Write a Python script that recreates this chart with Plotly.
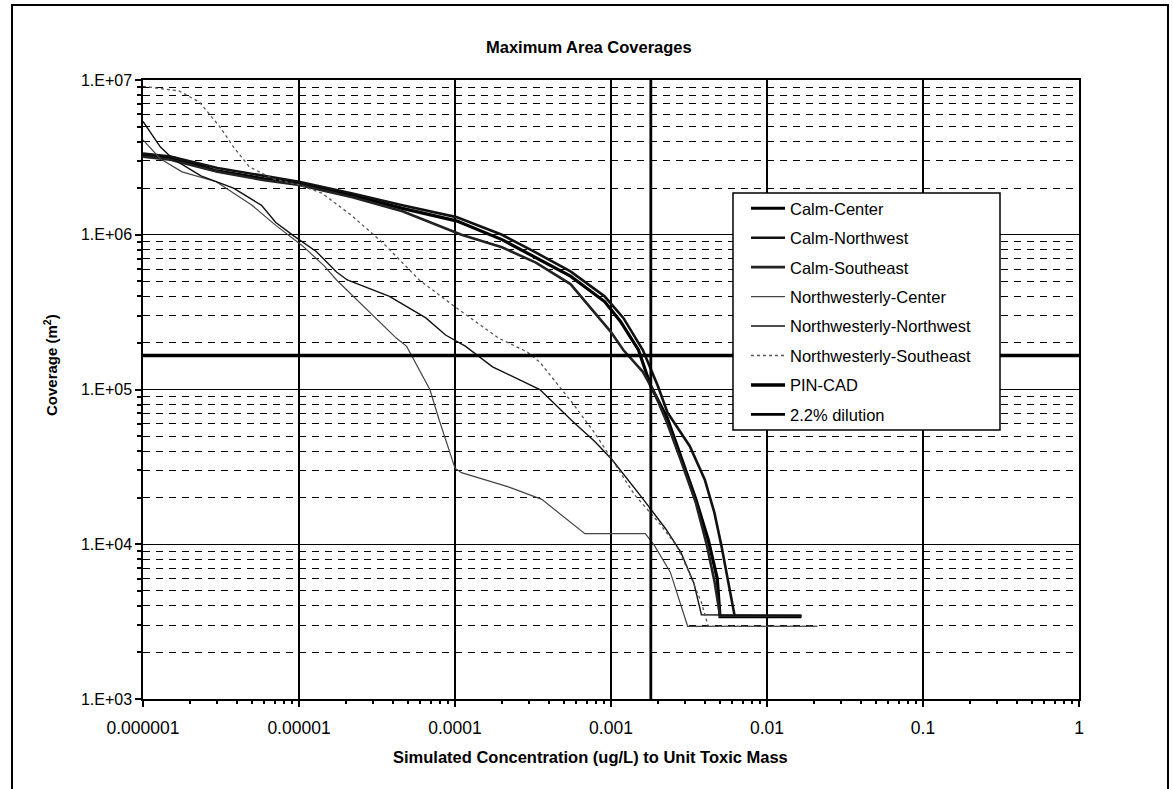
import plotly.graph_objects as go

# ---- series values: concentration (ug/L) vs. maximum area coverage (m^2) ----
calm_center_x = [1e-6, 1.55e-6, 2.9e-6, 6.0e-6, 1e-5, 2.2e-5, 4.6e-5, 1.02e-4, 2.0e-4, 3.2e-4,
                 5.5e-4, 9.1e-4, 1.15e-3, 1.5e-3, 1.8e-3, 2.3e-3, 2.8e-3, 3.5e-3, 4.2e-3,
                 4.8e-3, 5.0e-3, 0.0166]
calm_center_y = [3.3e6, 3.15e6, 2.6e6, 2.3e6, 2.15e6, 1.8e6, 1.48e6, 1.23e6, 9.3e5, 7.2e5,
                 5.4e5, 3.7e5, 2.75e5, 1.8e5, 1.05e5, 6.5e4, 3.7e4, 1.95e4, 1.07e4,
                 6.0e3, 3.4e3, 3.4e3]

calm_northwest_x = [1e-6, 1.5e-6, 3e-6, 6e-6, 1e-5, 2.2e-5, 4.6e-5, 1.02e-4, 2e-4, 3.2e-4,
                    5.5e-4, 9.1e-4, 1.2e-3, 1.6e-3, 2.0e-3, 2.3e-3, 3.2e-3, 4.0e-3, 4.6e-3,
                    5.1e-3, 5.6e-3, 6.2e-3, 0.0166]
calm_northwest_y = [3.35e6, 3.2e6, 2.7e6, 2.4e6, 2.2e6, 1.85e6, 1.55e6, 1.3e6, 1.0e6, 7.8e5,
                    5.8e5, 4.0e5, 2.9e5, 1.8e5, 1.05e5, 7.1e4, 4.3e4, 2.6e4, 1.6e4,
                    9.8e3, 6.0e3, 3.45e3, 3.45e3]

calm_southeast_x = [1e-6, 1.5e-6, 3e-6, 6e-6, 1e-5, 2.2e-5, 4.6e-5, 1.1e-4, 2e-4, 3.3e-4,
                    5.5e-4, 1.0e-3, 1.2e-3, 1.6e-3, 1.9e-3, 2.3e-3, 2.8e-3, 3.5e-3, 4.1e-3,
                    4.6e-3, 5.0e-3, 0.0166]
calm_southeast_y = [3.2e6, 3.05e6, 2.55e6, 2.25e6, 2.1e6, 1.75e6, 1.42e6, 1.0e6, 8.3e5, 6.6e5,
                    4.8e5, 2.35e5, 1.8e5, 1.3e5, 9.5e4, 6.0e4, 3.5e4, 1.85e4, 1.0e4,
                    5.8e3, 3.45e3, 3.45e3]

nw_center_x = [1e-6, 1.29e-6, 1.78e-6, 2.95e-6, 5.0e-6, 7.1e-6, 1.05e-5, 1.45e-5, 1.74e-5,
               2.8e-5, 4.2e-5, 4.9e-5, 6.9e-5, 7.9e-5, 1.0e-4, 1.1e-4, 2.2e-4, 3.6e-4,
               6.8e-4, 1.66e-3, 1.9e-3, 2.4e-3, 3.1e-3, 0.021]
nw_center_y = [4.1e6, 3.1e6, 2.55e6, 2.2e6, 1.55e6, 1.15e6, 8.5e5, 6.3e5, 5.1e5,
               3.2e5, 2.15e5, 1.9e5, 1.0e5, 6.4e4, 3.1e4, 2.9e4, 2.35e4, 1.95e4,
               1.17e4, 1.17e4, 9.8e3, 6.6e3, 2.95e3, 2.95e3]

nw_northwest_x = [1e-6, 1.29e-6, 1.55e-6, 2.35e-6, 3.8e-6, 5.75e-6, 7.1e-6, 9.3e-6, 1.29e-5,
                  1.74e-5, 2.04e-5, 3.8e-5, 6.5e-5, 8.7e-5, 1.17e-4, 1.74e-4, 3.5e-4, 5.6e-4,
                  7.9e-4, 1.02e-3, 1.58e-3, 2.24e-3, 2.8e-3, 3.4e-3, 3.8e-3, 0.0166]
nw_northwest_y = [5.4e6, 3.7e6, 3.1e6, 2.4e6, 2.0e6, 1.55e6, 1.2e6, 9.8e5, 7.8e5,
                  5.75e5, 5.1e5, 4.0e5, 2.9e5, 2.25e5, 1.9e5, 1.4e5, 1.0e5, 6.3e4,
                  4.6e4, 3.5e4, 2.0e4, 1.26e4, 8.9e3, 5.6e3, 3.5e3, 3.45e3]

nw_southeast_x = [1e-6, 1.7e-6, 2.3e-6, 3.1e-6, 3.8e-6, 4.8e-6, 6.8e-6, 1e-5, 1.4e-5, 2.2e-5,
                  3.6e-5, 5.9e-5, 1.05e-4, 1.9e-4, 2.9e-4, 3.5e-4, 5.6e-4, 7.9e-4, 1.02e-3,
                  1.41e-3, 2.0e-3, 2.63e-3, 3.16e-3, 3.8e-3, 4.2e-3, 0.021]
nw_southeast_y = [9.1e6, 8.5e6, 7.2e6, 5.0e6, 3.7e6, 2.75e6, 2.3e6, 2.1e6, 1.86e6, 1.32e6,
                  8.5e5, 5.1e5, 3.3e5, 2.15e5, 1.75e5, 1.5e5, 8.3e4, 5.2e4, 3.5e4,
                  2.1e4, 1.4e4, 9.8e3, 6.6e3, 4.2e3, 2.95e3, 2.95e3]

# reference levels
pin_cad_x = [1e-6, 1.0]
pin_cad_y = [1.66e5, 1.66e5]
dilution_x = [0.0018, 0.0018]
dilution_y = [1e3, 1e7]

# axis ticks
x_tick_vals = [1e-6, 1e-5, 1e-4, 1e-3, 1e-2, 1e-1, 1]
x_tick_text = ["0.000001", "0.00001", "0.0001", "0.001", "0.01", "0.1", "1"]
y_tick_vals = [1e3, 1e4, 1e5, 1e6, 1e7]
y_tick_text = ["1.E+03", "1.E+04", "1.E+05", "1.E+06", "1.E+07"]
y_minor_vals = [m * 10 ** e for e in range(3, 7) for m in range(2, 10)]
x_minor_vals = [m * 10 ** e for e in range(-6, 0) for m in range(2, 10)]

FONT = "Liberation Sans, Arial, sans-serif"

# plot area in pixels (figure 1173 x 789)
L, R, T, B = 143, 1079, 80, 699
PW, PH = R - L, B - T


def px(xp):
    return (xp - L) / PW


def py(yp):
    return (B - yp) / PH


series = [
    ("Calm-Center", calm_center_x, calm_center_y, dict(color="#000000", width=3.2)),
    ("Calm-Northwest", calm_northwest_x, calm_northwest_y, dict(color="#111111", width=2.6)),
    ("Calm-Southeast", calm_southeast_x, calm_southeast_y, dict(color="#222222", width=2.6)),
    ("Northwesterly-Center", nw_center_x, nw_center_y, dict(color="#444444", width=1.2)),
    ("Northwesterly-Northwest", nw_northwest_x, nw_northwest_y, dict(color="#111111", width=1.4)),
    ("Northwesterly-Southeast", nw_southeast_x, nw_southeast_y,
     dict(color="#555555", width=1.3, dash="dot")),
    ("PIN-CAD", pin_cad_x, pin_cad_y, dict(color="#000000", width=3.5)),
    ("2.2% dilution", dilution_x, dilution_y, dict(color="#000000", width=2.8)),
]

fig = go.Figure()
for i, (name, xs, ys, line) in enumerate(series):
    fig.add_trace(go.Scatter(x=xs, y=ys, name=name, mode="lines", line=line,
                             legendgroup=f"g{i}"))

fig.update_layout(
    width=1173, height=789,
    margin=dict(l=L, r=1173 - R, t=T, b=789 - B),
    paper_bgcolor="white", plot_bgcolor="white",
    font=dict(family=FONT, size=16, color="black"),
    title=dict(text="Maximum Area Coverages", x=0.502, xanchor="center",
               y=1 - 47 / 789, yanchor="middle",
               font=dict(family=FONT, size=16.5, color="black", weight="bold")),
    showlegend=True,
    legend=dict(x=px(746), y=py(191), xanchor="left", yanchor="top",
                bgcolor="rgba(0,0,0,0)", borderwidth=0,
                font=dict(family=FONT, size=16.5, color="black"),
                traceorder="grouped", tracegroupgap=5, itemwidth=34),
)

fig.update_xaxes(
    type="log", range=[-6, 0],
    tickmode="array", tickvals=x_tick_vals, ticktext=x_tick_text,
    ticks="outside", ticklen=6, tickcolor="black", tickwidth=1.5,
    ticklabelstandoff=6,
    showgrid=True, gridcolor="black", gridwidth=2,
    showline=True, linecolor="black", linewidth=1.5, mirror=True,
    zeroline=False, tickfont=dict(size=17.5),
    minor=dict(tickmode="array", tickvals=x_minor_vals, ticks="outside",
               ticklen=3, tickcolor="black", showgrid=False),
)
fig.update_yaxes(
    type="log", range=[3, 7],
    tickmode="array", tickvals=y_tick_vals, ticktext=y_tick_text,
    ticks="outside", ticklen=6, tickcolor="black", tickwidth=1.5,
    showgrid=True, gridcolor="black", gridwidth=1.3,
    showline=True, linecolor="black", linewidth=1.5, mirror=True,
    zeroline=False, tickfont=dict(size=16),
    minor=dict(tickmode="array", tickvals=y_minor_vals, ticks="outside",
               ticklen=4, tickcolor="black", showgrid=True,
               gridcolor="black", gridwidth=1.3, griddash="7px,6px"),
)

# axis titles
fig.add_annotation(text="<b>Simulated Concentration (ug/L) to Unit Toxic Mass</b>",
                   xref="paper", yref="paper", x=px(590), y=py(757),
                   xanchor="center", yanchor="middle",
                   showarrow=False, font=dict(size=16.5, family=FONT, color="black"))
fig.add_annotation(text="<b>Coverage (m<sup>2</sup>)</b>",
                   xref="paper", yref="paper", x=px(50), y=py(365), textangle=-90,
                   xanchor="center", yanchor="middle",
                   showarrow=False, font=dict(size=15, family=FONT, color="black"))

# legend frame
fig.add_shape(type="rect", xref="paper", yref="paper",
              x0=px(733), x1=px(1000), y0=py(430), y1=py(193),
              line=dict(color="black", width=1.5), fillcolor="white", layer="above")

# outer chart frame
fig.add_shape(type="rect", xref="paper", yref="paper",
              x0=px(12), x1=px(1168), y0=py(800), y1=py(5),
              line=dict(color="black", width=2), layer="below")

fig.write_html("out.html")
